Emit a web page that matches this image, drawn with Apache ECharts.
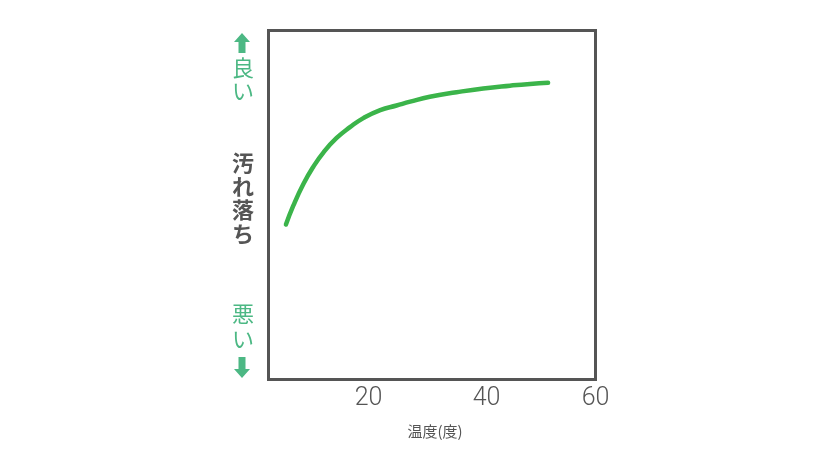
<!DOCTYPE html>
<html>
<head>
<meta charset="utf-8">
<style>html,body{margin:0;padding:0;background:#fff;}#c{width:840px;height:473px;}</style>
<script src="https://cdn.jsdelivr.net/npm/echarts@6/dist/echarts.min.js"></script>
</head>
<body>
<div id="c"></div>
<script>
// data
const tempX = [3.2, 4.55, 6.4, 8.2, 10.1, 12.5, 14.95, 17.4, 20.5, 23.5, 26.0, 29.6, 34.5, 39.4, 44.3, 48.0, 51.3];
const cleanY = [44.4, 49.8, 56.0, 60.9, 65.1, 69.2, 72.3, 74.9, 77.2, 78.5, 79.6, 81.0, 82.3, 83.4, 84.2, 84.7, 85.0];
const xTicks = [20, 40, 60];
const xName = '温度(度)';
const yName = '汚れ落ち';
const goodLabel = '良い';
const badLabel = '悪い';

const chart = echarts.init(document.getElementById('c'));
const green = '#4cb884';
const grey = '#555555';
const font = '"Noto Sans CJK JP", Roboto, sans-serif';

function vText(str, cx, topY, step, color, weight, size) {
  return str.split('').map((ch, i) => ({
    type: 'text', left: cx - size / 2, top: topY + i * step,
    style: { text: ch, fill: color, font: weight + ' ' + size + 'px ' + font, width: size, align: 'left' }
  }));
}

const graphics = []
  .concat(vText(goodLabel, 243, 57, 23, green, 'normal', 22))
  .concat(vText(yName, 243, 152, 23.5, grey, 'bold', 22))
  .concat(vText(badLabel, 243, 303, 25, green, 'normal', 22))
  .concat([
    { type: 'polygon', shape: { points: [[242, 33], [250, 42], [245.5, 42], [245.5, 53], [238.5, 53], [238.5, 42], [234, 42]] }, style: { fill: green } },
    { type: 'polygon', shape: { points: [[242, 378], [250, 369], [245.5, 369], [245.5, 357], [238.5, 357], [238.5, 369], [234, 369]] }, style: { fill: green } }
  ]);

chart.setOption({
  animation: false,
  grid: { left: 268.5, right: 244.5, top: 30.5, bottom: 93.5, show: true, borderColor: grey, borderWidth: 3, backgroundColor: 'transparent' },
  xAxis: {
    type: 'value', min: 0, max: 60, interval: 20,
    name: xName, nameLocation: 'middle', nameGap: 44,
    nameTextStyle: { fontSize: 15, color: grey, fontFamily: font, padding: [0, 0, 0, 6] },
    axisLine: { show: false }, axisTick: { show: false }, splitLine: { show: false },
    axisLabel: {
      margin: 7, fontSize: 25, color: grey, fontFamily: 'Roboto', fontWeight: 300,
      formatter: v => !xTicks.includes(v) ? '' : (v === 20 ? '{s|' + v + '}' : String(v)),
      rich: { s: { fontSize: 25, color: grey, fontFamily: 'Roboto', fontWeight: 300, padding: [0, 18, 0, 0] } }
    }
  },
  yAxis: {
    type: 'value', min: 0, max: 100,
    axisLine: { show: false }, axisTick: { show: false }, splitLine: { show: false }, axisLabel: { show: false }
  },
  graphic: graphics,
  series: [{
    type: 'line', smooth: 0.5, symbol: 'none',
    data: tempX.map((x, i) => [x, cleanY[i]]),
    lineStyle: { color: '#3bb44a', width: 4.5, cap: 'round', join: 'round' }
  }]
});
</script>
</body>
</html>
